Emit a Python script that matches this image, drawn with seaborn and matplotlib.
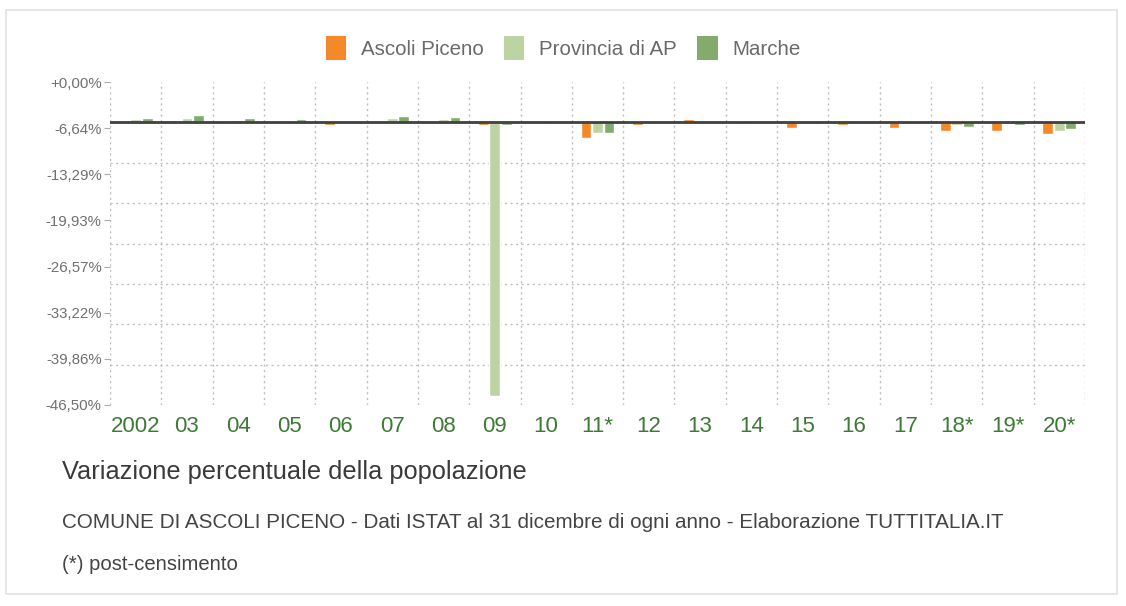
import numpy as np
import pandas as pd
import matplotlib
matplotlib.use("Agg")
import matplotlib.pyplot as plt
from matplotlib.patches import Rectangle, Patch
from matplotlib.ticker import FixedLocator
import seaborn as sns

# ---------------- data ----------------
year_labels = ["2002", "03", "04", "05", "06", "07", "08", "09", "10", "11*",
               "12", "13", "14", "15", "16", "17", "18*", "19*", "20*"]
ascoli_piceno = [0.1, 0.4, 0.1, 0.0, -0.4, 0.05, 0.05, -0.5, 0.0, -2.5,
                 -0.4, 0.6, -0.3, -1.0, -0.4, -1.0, -1.5, -1.4, -1.9]
provincia_ap = [0.5, 0.7, 0.4, 0.1, 0.3, 0.7, 0.5, -45.0, 0.05, -1.8,
                0.0, 0.1, 0.0, -0.3, -0.2, -0.3, -0.4, -0.3, -1.4]
marche = [0.8, 1.25, 0.8, 0.5, 0.3, 1.0, 0.9, -0.5, 0.1, -1.7,
          0.0, 0.2, 0.0, -0.3, -0.2, -0.3, -0.8, -0.4, -1.1]
series_names = ["Ascoli Piceno", "Provincia di AP", "Marche"]
ytick_labels = ["+0,00%", "-6,64%", "-13,29%", "-19,93%", "-26,57%",
                "-33,22%", "-39,86%", "-46,50%"]

title = "Variazione percentuale della popolazione"
subtitle = ("COMUNE DI ASCOLI PICENO - Dati ISTAT al 31 dicembre di ogni anno - "
            "Elaborazione TUTTITALIA.IT")
note = "(*) post-censimento"

colors = ["#f5892a", "#bcd4a4", "#84ab6e"]

df = pd.DataFrame({
    "anno": year_labels * 3,
    "serie": [series_names[0]] * len(year_labels)
             + [series_names[1]] * len(year_labels)
             + [series_names[2]] * len(year_labels),
    "valore": ascoli_piceno + provincia_ap + marche,
})

# ---------------- style ----------------
sns.set_theme(style="white")
plt.rcParams["font.family"] = ["Liberation Sans", "DejaVu Sans"]

W, H = 1126, 606
fig = plt.figure(figsize=(W / 100, H / 100), dpi=100)
fig.patch.set_facecolor("white")
ax = fig.add_axes([110 / W, 1 - 405 / H, (1085 - 110) / W, (405 - 82) / H])
ax.set_facecolor("white")

sns.barplot(data=df, x="anno", y="valore", hue="serie", order=year_labels,
            hue_order=series_names, palette=colors, width=0.67, gap=0.06,
            saturation=1, legend=False, ax=ax, errorbar=None)

step = 46.5 / 7
ymax, ymin = step, -46.5
ax.set_ylim(ymin, ymax)
ax.set_xlim(-0.5, len(year_labels) - 0.5)

# major y ticks carry labels (spread over the whole height)
ax.yaxis.set_major_locator(FixedLocator(np.linspace(ymax, ymin, 8)))
ax.set_yticklabels(ytick_labels)
# minor y ticks carry the dotted grid every step
ax.yaxis.set_minor_locator(FixedLocator(np.arange(8, -1, -1) * step - 46.5))
ax.xaxis.set_minor_locator(FixedLocator(np.arange(-0.5, len(year_labels), 1.0)))

ax.grid(False)
ax.grid(which="minor", axis="both", color="#bdbdbd", linestyle=(0, (1.5, 2.5)),
        linewidth=1.0)
ax.set_axisbelow(True)

ax.tick_params(axis="y", which="major", length=4, width=0.8, color="#aaaaaa",
               labelsize=10.8, labelcolor="#707070", pad=2, left=True)
ax.tick_params(axis="y", which="minor", length=0)
ax.tick_params(axis="x", which="both", length=0)
ax.tick_params(axis="x", which="major", labelsize=16, labelcolor="#3d7a35", pad=8)

for s in ax.spines.values():
    s.set_visible(False)

ax.axhline(0, color="#404040", linewidth=2.0, zorder=3)
ax.set_xlabel("")
ax.set_ylabel("")

# legend
handles = [Patch(facecolor=c, edgecolor="none") for c in colors]
fig.legend(handles, series_names, loc="center", bbox_to_anchor=(0.5, 1 - 48 / H),
           ncol=3, frameon=False, fontsize=14.8, labelcolor="#6a6a6a",
           handlelength=1.0, handleheight=1.35, handletextpad=0.7,
           columnspacing=1.0)

# texts
fig.text(62 / W, 1 - 472 / H, title, fontsize=18.3, color="#3a3a3a", va="center", ha="left")
fig.text(62 / W, 1 - 523 / H, subtitle, fontsize=14.9, color="#444444", va="center", ha="left")
fig.text(62 / W, 1 - 565 / H, note, fontsize=14.6, color="#444444", va="center", ha="left")

# outer frame
fig.add_artist(Rectangle((6 / W, 1 - 594 / H), (1117 - 6) / W, (594 - 10) / H,
                         transform=fig.transFigure, fill=False,
                         edgecolor="#e2e2e2", linewidth=1.2))

fig.savefig("out.png", dpi=100)
